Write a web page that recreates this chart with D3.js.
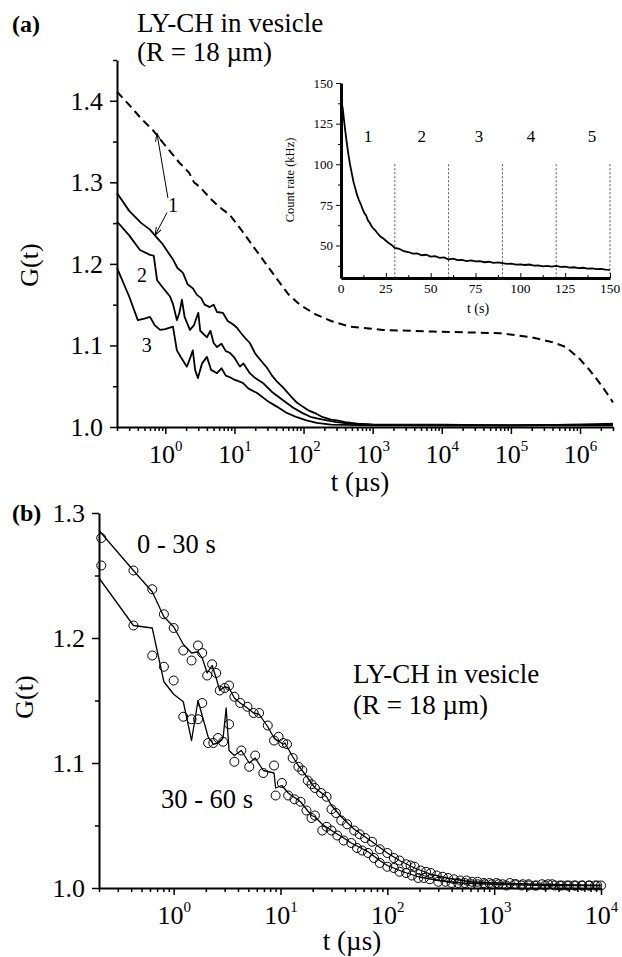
<!DOCTYPE html>
<html lang="en">
<head>
<meta charset="UTF-8">
<title>G(t) of LY-CH in vesicle</title>
<script src="https://cdnjs.cloudflare.com/ajax/libs/d3/7.8.5/d3.min.js"></script>
<style>
  body { margin: 0; background: #fff; }
  svg { display: block; }
  .axis path, .axis line { stroke: #000; }
</style>
</head>
<body>
<div id="chart"></div>
<script>
// ---- panel (a): correlation curves [t (µs), G(t)] ----
const curve1 = [[0.2,1.287],[0.3,1.265],[0.45,1.25],[0.6,1.242],[0.76,1.232],[0.9,1.225],[1.06,1.216],[1.3,1.205],[1.5,1.195],[1.8,1.189],[2.1,1.175],[2.5,1.17],[2.87,1.162],[3.3,1.158],[3.7,1.15],[4.4,1.147],[5.0,1.15],[5.6,1.141],[6.8,1.14],[8,1.13],[9.5,1.126],[10.8,1.122],[12.5,1.115],[14,1.11],[16.7,1.103],[20,1.09],[25,1.08],[29.4,1.073],[35,1.063],[41,1.056],[50,1.049],[65,1.038],[80,1.03],[97,1.025],[120,1.02],[155,1.016],[190,1.012],[250,1.009],[302,1.008],[400,1.006],[600,1.004],[1000,1.003],[3000,1.003],[1e4,1.003],[1e5,1.002],[1e6,1.003],[3e6,1.004]];
const curve2 = [[0.2,1.252],[0.3,1.235],[0.43,1.217],[0.6,1.211],[0.68,1.21],[0.76,1.18],[0.9,1.172],[1.17,1.16],[1.3,1.15],[1.47,1.131],[1.6,1.14],[1.74,1.156],[1.9,1.135],[2.27,1.119],[2.6,1.125],[3.0,1.14],[3.2,1.118],[4.0,1.11],[4.5,1.118],[5.0,1.103],[5.6,1.098],[6.5,1.102],[7.5,1.093],[8.6,1.091],[10,1.085],[12,1.074],[13.5,1.078],[16.7,1.066],[20,1.06],[25.8,1.054],[35,1.043],[50,1.033],[70,1.024],[97,1.017],[130,1.012],[190,1.009],[300,1.006],[500,1.004],[1000,1.003],[1e4,1.002],[1e5,1.002],[1e6,1.003],[3e6,1.003]];
const curve3 = [[0.2,1.195],[0.3,1.16],[0.4,1.131],[0.5,1.133],[0.6,1.135],[0.7,1.125],[0.84,1.119],[1.0,1.12],[1.29,1.123],[1.47,1.094],[1.7,1.085],[2.05,1.074],[2.3,1.085],[2.5,1.094],[2.7,1.07],[2.96,1.06],[3.4,1.078],[4.0,1.086],[4.6,1.07],[5.6,1.066],[6.5,1.072],[7.5,1.063],[8.6,1.061],[10,1.058],[13.2,1.054],[16,1.047],[21,1.042],[30,1.032],[41,1.025],[55,1.018],[80,1.012],[110,1.008],[155,1.005],[250,1.003],[1000,1.002],[1e5,1.002],[3e6,1.002]];
const dashedCurve = [[0.2,1.411],[0.3,1.395],[0.45,1.378],[0.66,1.364],[1.0,1.345],[1.6,1.324],[2.2,1.312],[2.6,1.30],[3.2,1.294],[4.5,1.28],[6,1.27],[8.6,1.26],[13,1.24],[23,1.211],[40,1.183],[60,1.163],[88,1.15],[150,1.138],[250,1.13],[466,1.123],[1400,1.119],[7400,1.117],[7e4,1.115],[2e5,1.11],[4e5,1.104],[6.3e5,1.098],[1e6,1.083],[1.37e6,1.07],[2e6,1.052],[2.66e6,1.037],[3e6,1.03]];
const curveLabels = [["1",1.29,1.272],["2",0.46,1.186],["3",0.54,1.10]];

// ---- inset: count rate [t (s), kHz] ----
const countRate = [[0,140],[1,134],[2,124],[3,115],[4,107],[5,100],[6,94.5],[7,89],[8,85],[9,81],[10,78],[11,75.5],[12,72.5],[13,70],[14,68.5],[15,65.5],[16,64],[17,62],[18,60.5],[19,59.5],[20,58],[22,55.5],[24,54],[26,52],[28,50.5],[30,48.5],[32.5,48],[35,46.5],[37.5,46],[40,45],[42.5,45.2],[45,44],[47.5,44.3],[50,43.2],[52.5,43.5],[55,42.4],[57.5,42.7],[60,41.4],[62.5,41.9],[65,41],[67.5,41.2],[70,40.4],[72.5,40.8],[75,40.2],[77.5,40.4],[80,39.7],[82.5,40],[85,39.3],[87.5,39.6],[90,39.2],[92.5,38.7],[95,38.9],[97.5,38.2],[100,38.4],[102.5,38],[105,38.3],[107.5,37.6],[110,37.8],[112.5,37.2],[115,37.5],[117.5,37],[120,37.4],[122.5,36.9],[125,37],[127.5,36.4],[130,36.6],[132.5,36.1],[135,36.3],[137.5,35.8],[140,35.9],[142.5,35.5],[145,35.6],[147.5,35.2],[150,35]];
const segmentEdges = [30, 60, 90, 120, 150];
const segmentLabels = [["1",15],["2",45],["3",77],["4",106],["5",140]];

// ---- panel (b): 0-30 s and 30-60 s ----
const upperLine = [[0.2,1.286],[0.42,1.254],[0.63,1.237],[0.81,1.217],[1.0,1.209],[1.23,1.195],[1.47,1.188],[1.69,1.189],[1.85,1.184],[2.06,1.172],[2.29,1.178],[2.5,1.168],[2.7,1.158],[3.0,1.161],[3.3,1.16],[3.7,1.152],[4.2,1.148],[4.9,1.144],[5.6,1.14],[6.3,1.139],[7.6,1.129],[8.7,1.12],[10.6,1.115],[11,1.116],[13,1.105],[14.7,1.098],[18,1.088],[21,1.08],[27,1.073],[30,1.066],[37,1.057],[49,1.047],[72,1.037],[100,1.028],[130,1.022],[180,1.016],[255,1.011],[360,1.008],[600,1.005],[1100,1.004],[2600,1.003],[1e4,1.002]];
const lowerLine = [[0.2,1.248],[0.42,1.21],[0.63,1.208],[0.81,1.165],[1.0,1.155],[1.23,1.149],[1.47,1.118],[1.69,1.15],[2.1,1.121],[2.35,1.115],[2.6,1.116],[2.9,1.12],[3.1,1.144],[3.3,1.11],[3.7,1.106],[4.3,1.11],[5.1,1.1],[5.8,1.104],[6.9,1.094],[8.7,1.092],[9.0,1.08],[10.3,1.082],[11.8,1.076],[15.4,1.069],[19.5,1.058],[21,1.057],[24.6,1.051],[30,1.046],[39,1.04],[46,1.036],[66,1.029],[85,1.022],[100,1.018],[140,1.013],[195,1.009],[300,1.006],[500,1.004],[1000,1.003],[3000,1.002],[1e4,1.002]];
const upperCircles = [[0.21,1.28],[0.42,1.254],[0.63,1.239],[0.81,1.219],[1.0,1.208],[1.23,1.19],[1.47,1.182],[1.69,1.194],[1.85,1.188],[2.06,1.17],[2.29,1.179],[2.5,1.172],[2.7,1.158],[3.0,1.16],[3.3,1.162],[3.7,1.153],[4.2,1.148],[4.9,1.145],[5.6,1.14],[6.3,1.14],[7.6,1.13],[8.7,1.118],[9.6,1.121],[10.6,1.116],[11.5,1.115],[13,1.104],[14.7,1.097],[16,1.094],[18,1.086],[19.5,1.083],[21,1.08],[24,1.076],[27,1.073],[30,1.063],[33,1.06],[37,1.054],[42,1.051],[49,1.046],[55,1.043],[62,1.04],[72,1.037],[85,1.031],[100,1.028],[115,1.024],[130,1.022],[150,1.019],[165,1.018],[180,1.017],[205,1.014],[230,1.013],[255,1.012],[290,1.01],[330,1.009],[370,1.008],[420,1.007],[480,1.006],[550,1.006],[620,1.005],[700,1.005],[800,1.004],[900,1.004],[1050,1.004],[1200,1.003],[1400,1.004],[1600,1.003],[1850,1.003],[2100,1.003],[2400,1.002],[2800,1.003],[3200,1.003],[3700,1.002],[4300,1.002],[5000,1.002],[5800,1.002],[6700,1.002],[7700,1.002],[8800,1.002],[10000,1.002]];
const lowerCircles = [[0.21,1.258],[0.42,1.21],[0.63,1.186],[0.81,1.177],[1.0,1.166],[1.23,1.137],[1.47,1.135],[1.69,1.135],[1.85,1.148],[2.1,1.116],[2.35,1.116],[2.6,1.12],[2.9,1.117],[3.3,1.131],[3.7,1.101],[4.3,1.11],[5.1,1.097],[5.8,1.106],[6.9,1.092],[8.7,1.098],[9.0,1.074],[10.3,1.084],[11.8,1.074],[13.5,1.071],[15.4,1.069],[17.5,1.062],[19.5,1.056],[21,1.058],[24.6,1.046],[27,1.049],[30,1.046],[34,1.042],[39,1.038],[46,1.036],[52,1.032],[58,1.03],[66,1.028],[75,1.024],[85,1.02],[100,1.017],[115,1.016],[130,1.013],[150,1.012],[170,1.01],[195,1.008],[220,1.008],[250,1.007],[300,1.005],[350,1.005],[400,1.004],[460,1.004],[530,1.004],[610,1.003],[700,1.003],[820,1.003],[950,1.003],[1100,1.003],[1300,1.002],[1550,1.003],[1800,1.002],[2100,1.002],[2500,1.002],[3000,1.002],[3500,1.003],[4100,1.002],[4800,1.002],[5600,1.002],[6600,1.002],[7800,1.002],[9200,1.002]];

const FONT = "'Liberation Serif', 'Times New Roman', Times, serif";
const W = 622, H = 957;
const svg = d3.select("#chart").append("svg").attr("width", W).attr("height", H)
  .attr("font-family", FONT);
svg.append("rect").attr("width", W).attr("height", H).attr("fill", "#fff");

// log minor ticks 2..9 per decade inside a domain
function logMinors(lo, hi) {
  const out = [];
  for (let k = Math.floor(Math.log10(lo)); k <= Math.ceil(Math.log10(hi)); k++)
    for (let m = 2; m <= 9; m++) { const v = m * Math.pow(10, k); if (v >= lo && v <= hi) out.push(v); }
  return out;
}

// bottom log axis with 10^n labels
function logXAxis(x, y0, exps) {
  const majors = exps.map(e => Math.pow(10, e));
  const gMin = svg.append("g").attr("class", "axis").attr("transform", `translate(0,${y0})`)
    .call(d3.axisBottom(x).tickValues(logMinors(...x.domain())).tickSize(4).tickSizeOuter(0).tickFormat(""));
  gMin.select(".domain").attr("stroke-width", 2);
  gMin.selectAll(".tick line").attr("stroke-width", 1.5);
  const gMaj = svg.append("g").attr("class", "axis").attr("transform", `translate(0,${y0})`)
    .call(d3.axisBottom(x).tickValues(majors).tickSize(7).tickSizeOuter(0).tickFormat(""))
    .attr("font-family", FONT);
  gMaj.select(".domain").remove();
  gMaj.selectAll(".tick line").attr("stroke-width", 1.5);
  const t = gMaj.selectAll(".tick").append("text").attr("y", 36).attr("text-anchor", "middle")
    .attr("fill", "#000").attr("font-size", 26);
  t.append("tspan").text("10");
  t.append("tspan").attr("dy", -12).attr("font-size", 15).text((d, i) => exps[i]);
}

function linYAxis(y, x0, majors, minors, fmt) {
  const gMin = svg.append("g").attr("class", "axis").attr("transform", `translate(${x0},0)`)
    .call(d3.axisLeft(y).tickValues(minors).tickSize(4).tickSizeOuter(0).tickFormat(""));
  gMin.select(".domain").attr("stroke-width", 2);
  gMin.selectAll(".tick line").attr("stroke-width", 1.5);
  const gMaj = svg.append("g").attr("class", "axis").attr("transform", `translate(${x0},0)`)
    .call(d3.axisLeft(y).tickValues(majors).tickSize(7).tickPadding(7).tickSizeOuter(0).tickFormat(fmt))
    .attr("font-family", FONT).attr("font-size", 26);
  gMaj.select(".domain").remove();
  gMaj.selectAll(".tick line").attr("stroke-width", 1.5);
}

// ================= panel (a) =================
const xa = d3.scaleLog().domain([0.2, 3e6]).range([117, 613]);
const ya = d3.scaleLinear().domain([1.0, 1.45]).range([427, 60]);
const lineA = d3.line().x(d => xa(d[0])).y(d => ya(d[1]));

linYAxis(ya, 117, [1.0, 1.1, 1.2, 1.3, 1.4], [1.05, 1.15, 1.25, 1.35, 1.45], d3.format(".1f"));
logXAxis(xa, 427, [0, 1, 2, 3, 4, 5, 6]);

svg.append("path").datum(dashedCurve).attr("d", lineA).attr("fill", "none")
  .attr("stroke", "#000").attr("stroke-width", 2).attr("stroke-dasharray", "8,5");
[curve1, curve2, curve3].forEach(c => {
  svg.append("path").datum(c).attr("d", lineA).attr("fill", "none")
    .attr("stroke", "#000").attr("stroke-width", 1.8).attr("stroke-linejoin", "round");
});

svg.selectAll(".clab").data(curveLabels).join("text")
  .attr("x", d => xa(d[1])).attr("y", d => ya(d[2])).attr("dy", "0.35em")
  .attr("text-anchor", "middle").attr("font-size", 20).text(d => d[0]);

// arrows from label "1"
const defs = svg.append("defs");
defs.append("marker").attr("id", "arr").attr("viewBox", "0 0 10 10").attr("refX", 10).attr("refY", 5)
  .attr("markerWidth", 8).attr("markerHeight", 8).attr("orient", "auto")
  .append("path").attr("d", "M0,1.5L10,5L0,8.5").attr("fill", "none").attr("stroke", "#000").attr("stroke-width", 1.2);
[[[1.09, 1.281], [0.757, 1.36]], [[1.06, 1.263], [0.71, 1.235]]].forEach(([a, b]) => {
  svg.append("line").attr("x1", xa(a[0])).attr("y1", ya(a[1])).attr("x2", xa(b[0])).attr("y2", ya(b[1]))
    .attr("stroke", "#000").attr("stroke-width", 1).attr("marker-end", "url(#arr)");
});

svg.append("text").attr("x", 12).attr("y", 32).attr("font-size", 24).attr("font-weight", "bold").text("(a)");
svg.append("text").attr("x", 137).attr("y", 32).attr("font-size", 27).text("LY-CH in vesicle");
svg.append("text").attr("x", 137).attr("y", 61).attr("font-size", 27).text("(R = 18 \u00b5m)");
svg.append("text").attr("transform", "translate(38,265) rotate(-90)").attr("text-anchor", "middle")
  .attr("font-size", 26).text("G(t)");
svg.append("text").attr("x", 360).attr("y", 491).attr("text-anchor", "middle").attr("font-size", 27).text("t (\u00b5s)");

// ---- inset ----
const xi = d3.scaleLinear().domain([0, 150]).range([341, 610]);
const yi = d3.scaleLinear().domain([30, 150]).range([278, 83]);

svg.selectAll(".seg").data(segmentEdges).join("line")
  .attr("x1", d => xi(d)).attr("x2", d => xi(d)).attr("y1", yi(100)).attr("y2", yi(30))
  .attr("stroke", "#555").attr("stroke-width", 1).attr("stroke-dasharray", "2,2");

svg.append("path").datum(countRate)
  .attr("d", d3.line().x(d => xi(d[0])).y(d => yi(d[1])))
  .attr("fill", "none").attr("stroke", "#000").attr("stroke-width", 1.8);

const giy = svg.append("g").attr("class", "axis").attr("transform", "translate(341,0)")
  .call(d3.axisLeft(yi).tickValues([37.5, 62.5, 87.5, 112.5, 137.5]).tickSize(3).tickSizeOuter(0).tickFormat(""));
giy.select(".domain").attr("stroke-width", 3);
svg.append("g").attr("class", "axis").attr("transform", "translate(341,0)")
  .call(d3.axisLeft(yi).tickValues([50, 75, 100, 125, 150]).tickSize(5).tickPadding(3).tickSizeOuter(0))
  .attr("font-family", FONT).attr("font-size", 13)
  .call(g => g.select(".domain").remove());

const gix = svg.append("g").attr("class", "axis").attr("transform", "translate(0,278)")
  .call(d3.axisTop(xi).tickValues([12.5, 37.5, 62.5, 87.5, 112.5, 137.5]).tickSize(3).tickSizeOuter(0).tickFormat(""));
gix.select(".domain").attr("stroke-width", 3);
svg.append("g").attr("class", "axis").attr("transform", "translate(0,278)")
  .call(d3.axisTop(xi).tickValues([0, 25, 50, 75, 100, 125, 150]).tickSize(5).tickSizeOuter(0).tickFormat(""))
  .call(g => g.select(".domain").remove());
svg.selectAll(".ixl").data([0, 25, 50, 75, 100, 125, 150]).join("text")
  .attr("x", d => xi(d)).attr("y", 293).attr("text-anchor", "middle").attr("font-size", 13.5).text(d => d);

svg.selectAll(".slab").data(segmentLabels).join("text")
  .attr("x", d => xi(d[1])).attr("y", 142).attr("text-anchor", "middle").attr("font-size", 17).text(d => d[0]);
svg.append("text").attr("x", 478).attr("y", 313).attr("text-anchor", "middle").attr("font-size", 14).text("t (s)");
svg.append("text").attr("transform", "translate(294,180) rotate(-90)").attr("text-anchor", "middle")
  .attr("font-size", 12.5).text("Count rate (kHz)");

// ================= panel (b) =================
const xb = d3.scaleLog().domain([0.2, 1e4]).range([99, 601]);
const yb = d3.scaleLinear().domain([1.0, 1.3]).range([888, 513]);
const lineB = d3.line().x(d => xb(d[0])).y(d => yb(d[1]));

linYAxis(yb, 99, [1.0, 1.1, 1.2, 1.3], [1.05, 1.15, 1.25], d3.format(".1f"));
logXAxis(xb, 888, [0, 1, 2, 3, 4]);

[upperLine, lowerLine].forEach(c => {
  svg.append("path").datum(c).attr("d", lineB).attr("fill", "none")
    .attr("stroke", "#000").attr("stroke-width", 1.3).attr("stroke-linejoin", "round");
});
[upperCircles, lowerCircles].forEach(c => {
  svg.append("g").selectAll("circle").data(c).join("circle")
    .attr("cx", d => xb(d[0])).attr("cy", d => yb(d[1])).attr("r", 4.5)
    .attr("fill", "none").attr("stroke", "#000").attr("stroke-width", 1);
});

svg.append("text").attr("x", 12).attr("y", 521).attr("font-size", 24).attr("font-weight", "bold").text("(b)");
svg.append("text").attr("x", 137).attr("y", 553).attr("font-size", 26.5).text("0 - 30 s");
svg.append("text").attr("x", 161).attr("y", 808).attr("font-size", 26.5).text("30 - 60 s");
svg.append("text").attr("x", 353).attr("y", 683).attr("font-size", 27).text("LY-CH in vesicle");
svg.append("text").attr("x", 353).attr("y", 714).attr("font-size", 27).text("(R = 18 \u00b5m)");
svg.append("text").attr("transform", "translate(33,697) rotate(-90)").attr("text-anchor", "middle")
  .attr("font-size", 26).text("G(t)");
svg.append("text").attr("x", 352).attr("y", 950).attr("text-anchor", "middle").attr("font-size", 27).text("t (\u00b5s)");
</script>
</body>
</html>
